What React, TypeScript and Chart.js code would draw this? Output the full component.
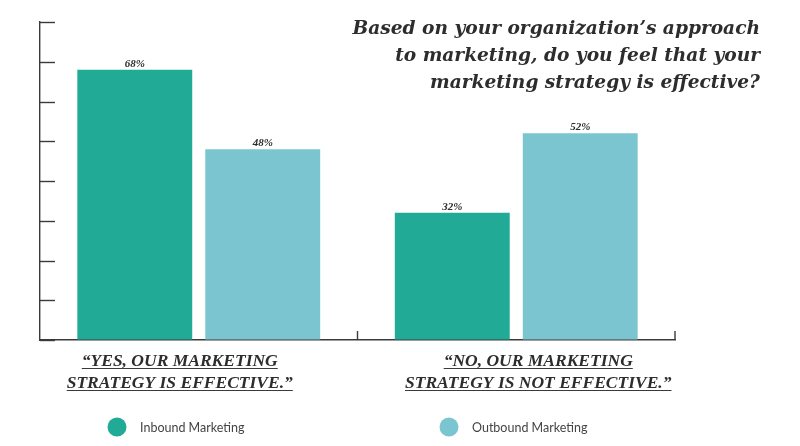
import { useEffect, useRef } from "react";
import { Chart, registerables } from "chart.js";

Chart.register(...registerables);

// chart data
const categories = [
  ["“YES, OUR MARKETING", "STRATEGY IS EFFECTIVE.”"],
  ["“NO, OUR MARKETING", "STRATEGY IS NOT EFFECTIVE.”"],
];
const seriesNames = ["Inbound Marketing", "Outbound Marketing"];
const inboundValues = [68, 32];
const outboundValues = [48, 52];
const yMax = 80;
const yStep = 10;
const titleLines = [
  "Based on your organization’s approach",
  "to marketing, do you feel that your",
  "marketing strategy is effective?",
];

const TEAL = "#21aa96";
const LIGHT = "#7bc5d1";
const INK = "#2d2d2d";
const AXIS = "#3a3a3a";

const SERIF = "'Liberation Serif', serif";

const decorPlugin = {
  id: "decor",
  afterDraw(chart: any) {
    const { ctx, chartArea } = chart;
    const xs = chart.scales.x;
    const ys = chart.scales.y;
    const line = (x1: number, y1: number, x2: number, y2: number) => {
      ctx.beginPath();
      ctx.moveTo(x1, y1);
      ctx.lineTo(x2, y2);
      ctx.stroke();
    };
    ctx.save();
    ctx.strokeStyle = AXIS;
    ctx.lineWidth = 1.4;

    // y ticks point into the plot
    ys.ticks.forEach((t: any) => {
      const py = Math.round(ys.getPixelForValue(t.value)) + 0.5;
      line(chartArea.left, py, chartArea.left + 15, py);
    });

    // x ticks at category boundaries, pointing up
    for (let i = 1; i <= categories.length; i++) {
      const px =
        i < categories.length
          ? (xs.getPixelForValue(i - 1) + xs.getPixelForValue(i)) / 2
          : chartArea.right;
      line(px, chartArea.bottom, px, chartArea.bottom - 9);
    }

    // value labels
    ctx.fillStyle = INK;
    ctx.textAlign = "center";
    ctx.textBaseline = "alphabetic";
    ctx.font = `italic bold 11px ${SERIF}`;
    chart.data.datasets.forEach((ds: any, d: number) => {
      chart.getDatasetMeta(d).data.forEach((bar: any, i: number) => {
        ctx.fillText(`${ds.data[i]}%`, bar.x, bar.y - 3);
      });
    });

    // category labels, underlined
    const shift = [-19, 22];
    ctx.font = `italic bold 17.5px ${SERIF}`;
    ctx.lineWidth = 1;
    categories.forEach((lines, i) => {
      const cx = xs.getPixelForValue(i) + shift[i];
      lines.forEach((txt, j) => {
        const by = chartArea.bottom + 26 + j * 22;
        ctx.fillText(txt, cx, by);
        const w = ctx.measureText(txt).width;
        line(cx - w / 2, by + 2.5, cx + w / 2, by + 2.5);
      });
    });

    // title
    ctx.textAlign = "right";
    ctx.font = `italic bold 18.6px 'DejaVu Serif', serif`;
    titleLines.forEach((txt, j) => {
      ctx.fillText(txt, 760, 34 + j * 27);
    });

    // legend
    const legendX = [117, 449];
    ctx.textAlign = "left";
    ctx.textBaseline = "middle";
    ctx.font = `12.5px Lato, sans-serif`;
    chart.data.datasets.forEach((ds: any, d: number) => {
      ctx.fillStyle = ds.backgroundColor;
      ctx.beginPath();
      ctx.arc(legendX[d], 427, 9.5, 0, Math.PI * 2);
      ctx.fill();
      ctx.fillStyle = "#444";
      ctx.fillText(ds.label, legendX[d] + 23, 428);
    });

    ctx.restore();
  },
};

function BarChart() {
  const canvasRef = useRef<HTMLCanvasElement>(null);

  useEffect(() => {
    if (!canvasRef.current) return;
    const chart = new Chart(canvasRef.current, {
      type: "bar",
      data: {
        labels: categories.map((c) => c.join(" ")),
        datasets: [
          {
            label: seriesNames[0],
            data: inboundValues,
            backgroundColor: TEAL,
            borderWidth: 0,
          },
          {
            label: seriesNames[1],
            data: outboundValues,
            backgroundColor: LIGHT,
            borderWidth: 0,
          },
        ],
      },
      options: {
        responsive: true,
        maintainAspectRatio: false,
        animation: false,
        layout: { padding: { left: 40, right: 125, top: 22, bottom: 106 } },
        datasets: {
          bar: { categoryPercentage: 0.806, barPercentage: 0.898 },
        },
        scales: {
          x: {
            ticks: { display: false },
            grid: { drawOnChartArea: false, drawTicks: false },
            border: { display: true, color: AXIS, width: 1.4 },
          },
          y: {
            min: 0,
            max: yMax,
            ticks: { display: false, stepSize: yStep },
            grid: { drawOnChartArea: false, drawTicks: false },
            border: { display: true, color: AXIS, width: 1.4 },
          },
        },
        plugins: {
          legend: { display: false },
          tooltip: { enabled: false },
        },
      },
      plugins: [decorPlugin],
    });
    return () => chart.destroy();
  }, []);

  return (
    <div
      style={{
        position: "fixed",
        left: 0,
        top: 0,
        width: 800,
        height: 446,
        background: "#fff",
      }}
    >
      <canvas ref={canvasRef}></canvas>
    </div>
  );
}

export default function App() {
  return <BarChart />;
}
